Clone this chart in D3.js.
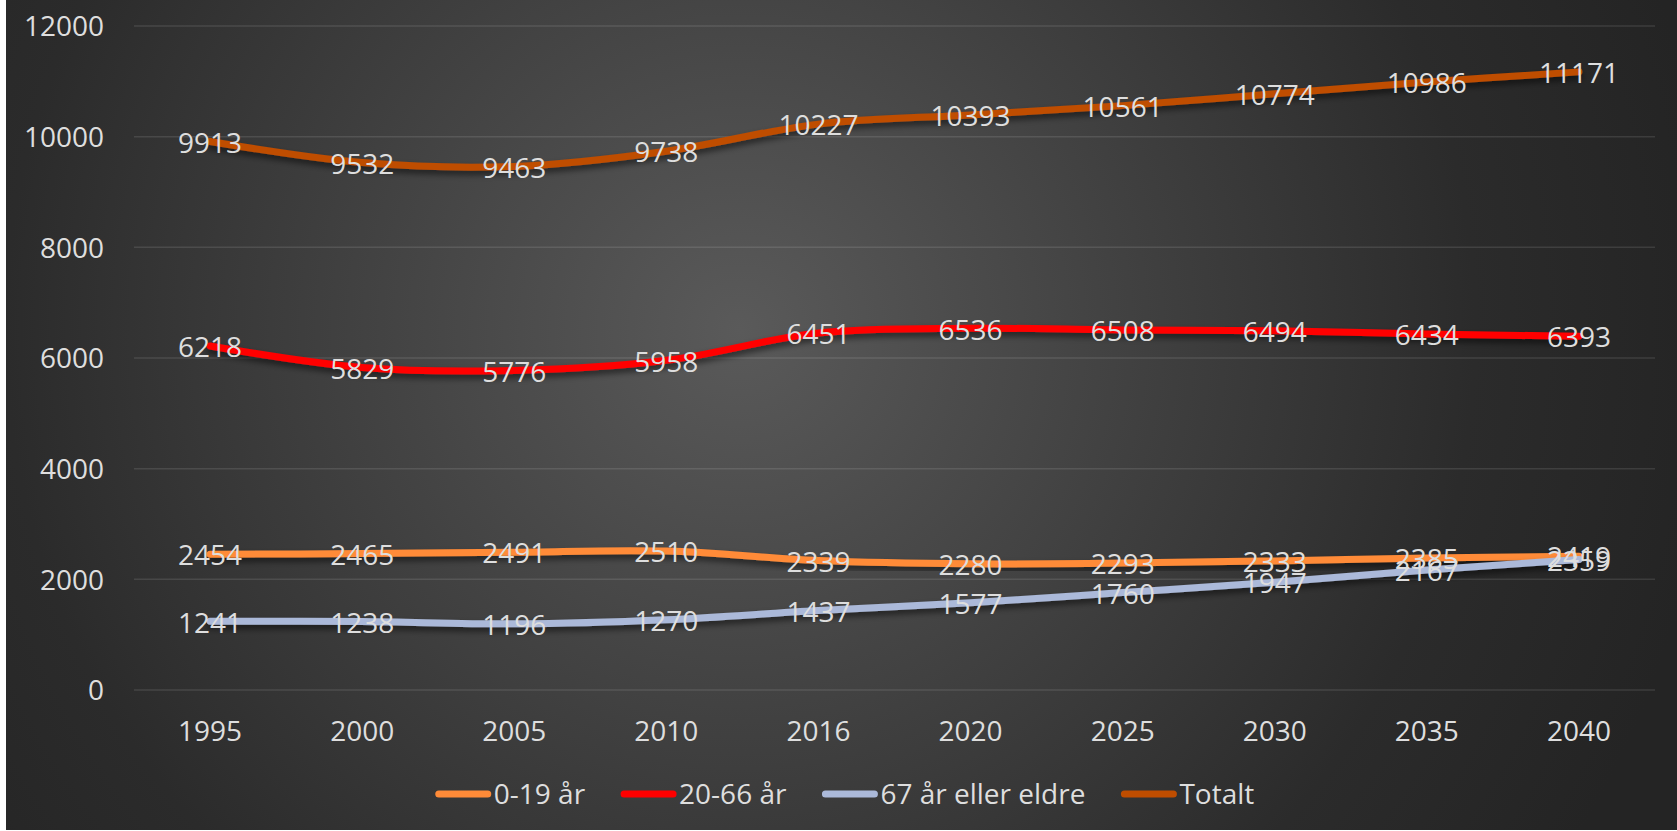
<!DOCTYPE html>
<html>
<head>
<meta charset="utf-8">
<script src="https://cdn.jsdelivr.net/npm/d3@7"></script>
<style>
  html, body { margin: 0; padding: 0; background: #ffffff; overflow: hidden; }
  svg { display: block; }
</style>
</head>
<body>
<div id="chart"></div>
<script>
// data
var Years = ["1995", "2000", "2005", "2010", "2016", "2020", "2025", "2030", "2035", "2040"];
var Young = [2454, 2465, 2491, 2510, 2339, 2280, 2293, 2333, 2385, 2419];
var Working = [6218, 5829, 5776, 5958, 6451, 6536, 6508, 6494, 6434, 6393];
var Old = [1241, 1238, 1196, 1270, 1437, 1577, 1760, 1947, 2167, 2359];
var Total = [9913, 9532, 9463, 9738, 10227, 10393, 10561, 10774, 10986, 11171];
var YTicks = [0, 2000, 4000, 6000, 8000, 10000, 12000];

var SeriesList = [
    { name: "0-19 år", values: Young, color: "#ff8b38" },
    { name: "20-66 år", values: Working, color: "#ff0000" },
    { name: "67 år eller eldre", values: Old, color: "#abb9d9" },
    { name: "Totalt", values: Total, color: "#bf4d00" }
];

var Width = 1677, Height = 831;
var Font = "'Open Sans', 'Noto Sans', sans-serif";
var FontSize = "28px";
var TextColor = "#dedede";

var svg = d3.select("#chart").append("svg")
    .attr("width", Width)
    .attr("height", Height);

var defs = svg.append("defs");
var grad = defs.append("radialGradient")
    .attr("id", "bg")
    .attr("gradientUnits", "userSpaceOnUse")
    .attr("cx", 740).attr("cy", 330).attr("r", 980);
grad.append("stop").attr("offset", "0").attr("stop-color", "#5a5a5a");
grad.append("stop").attr("offset", "0.75").attr("stop-color", "#2b2b2b");
grad.append("stop").attr("offset", "1").attr("stop-color", "#242424");

var shadow = defs.append("filter").attr("id", "shadow")
    .attr("x", "-5%").attr("y", "-50%").attr("width", "110%").attr("height", "200%");
shadow.append("feDropShadow")
    .attr("dx", 0).attr("dy", 4).attr("stdDeviation", 3)
    .attr("flood-color", "#000").attr("flood-opacity", 0.55);

// background, white strip left like the original
svg.append("rect")
    .attr("x", 6).attr("y", 0)
    .attr("width", Width - 6).attr("height", Height - 1)
    .attr("fill", "url(#bg)");

var Left = 134, Right = 1655, Top = 26, Bottom = 690;

var x = d3.scaleBand().domain(Years).range([Left, Right]);
var y = d3.scaleLinear().domain([0, 12000]).range([Bottom, Top]);
var cx = d => x(d) + x.bandwidth() / 2;

// gridlines
svg.append("g")
    .selectAll("line")
    .data(YTicks)
    .enter()
    .append("line")
    .attr("x1", Left).attr("x2", Right)
    .attr("y1", d => y(d)).attr("y2", d => y(d))
    .attr("stroke", "#ffffff")
    .attr("stroke-opacity", 0.11)
    .attr("stroke-width", 1.5);

// y axis
var yAxis = svg.append("g")
    .attr("transform", "translate(104,0)")
    .call(d3.axisLeft(y).tickValues(YTicks).tickSize(0).tickPadding(0).tickFormat(d3.format("d")));
yAxis.select(".domain").remove();
yAxis.selectAll("text")
    .attr("fill", TextColor)
    .style("font-family", Font)
    .style("font-size", FontSize)
    .attr("dy", "0.35em");

// x axis
var xAxis = svg.append("g")
    .attr("transform", "translate(0," + Bottom + ")")
    .call(d3.axisBottom(x).tickSize(0).tickPadding(0));
xAxis.select(".domain").remove();
xAxis.selectAll("text")
    .attr("fill", TextColor)
    .style("font-family", Font)
    .style("font-size", FontSize)
    .attr("y", 41)
    .attr("dy", "0.35em");

// lines
var lineDrawer = d3.line()
    .x((d, i) => cx(Years[i]))
    .y(d => y(d))
    .curve(d3.curveCatmullRom.alpha(0));

svg.append("g")
    .selectAll("path")
    .data(SeriesList)
    .enter()
    .append("path")
    .attr("d", d => lineDrawer(d.values))
    .attr("fill", "none")
    .attr("stroke", d => d.color)
    .attr("stroke-width", 7)
    .attr("stroke-linecap", "round")
    .attr("stroke-linejoin", "round")
    .attr("filter", "url(#shadow)");

// data labels, centred on points
SeriesList.forEach(s => {
    svg.append("g")
        .selectAll("text")
        .data(s.values)
        .enter()
        .append("text")
        .attr("x", (d, i) => cx(Years[i]))
        .attr("y", d => y(d))
        .attr("dy", "0.4em")
        .attr("text-anchor", "middle")
        .attr("fill", TextColor)
        .style("font-family", Font)
        .style("font-size", FontSize)
        .text(d => d);
});

// legend
var legend = svg.append("g");
var LegendY = 794, SampleLen = 55, SampleGap = 3, ItemGap = 36;
var items = legend.selectAll("g")
    .data(SeriesList)
    .enter()
    .append("g");
items.append("line")
    .attr("x1", 3).attr("x2", SampleLen - 3)
    .attr("y1", 0).attr("y2", 0)
    .attr("stroke", d => d.color)
    .attr("stroke-width", 7)
    .attr("stroke-linecap", "round");
items.append("text")
    .attr("x", SampleLen + SampleGap)
    .attr("dy", "0.35em")
    .attr("fill", TextColor)
    .style("font-family", Font)
    .style("font-size", FontSize)
    .text(d => d.name);

var offset = 0;
var widths = [];
items.each(function (d) {
    var w = SampleLen + SampleGap + d3.select(this).select("text").node().getComputedTextLength();
    widths.push(w);
});
var totalW = d3.sum(widths) + ItemGap * (widths.length - 1);
var startX = 845 - totalW / 2;
items.attr("transform", (d, i) => {
    var tx = startX + offset;
    offset += widths[i] + ItemGap;
    return "translate(" + tx + "," + LegendY + ")";
});
</script>
</body>
</html>
